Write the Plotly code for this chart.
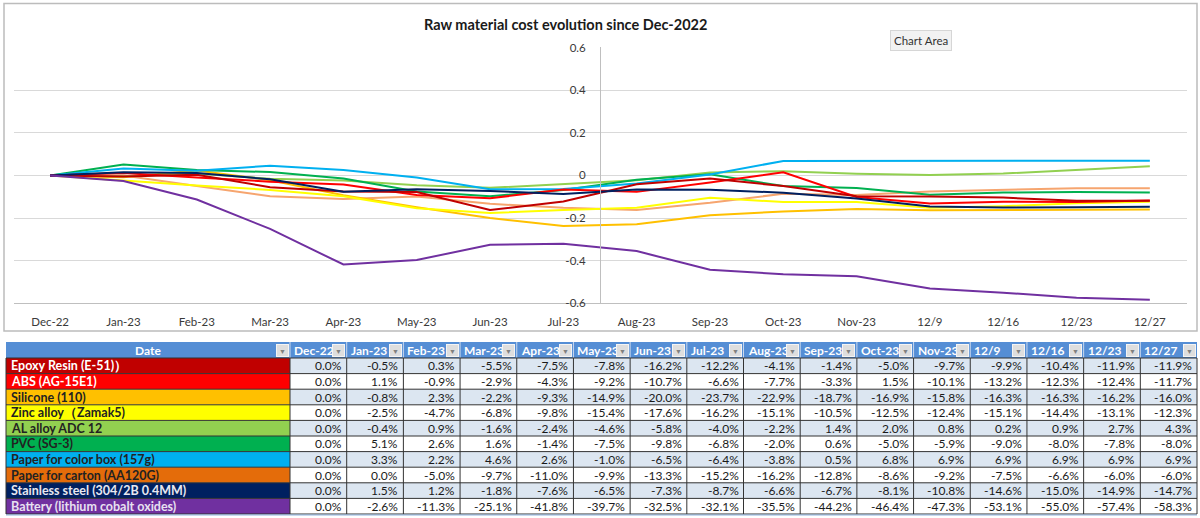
import plotly.graph_objects as go

categories = ["Dec-22", "Jan-23", "Feb-23", "Mar-23", "Apr-23", "May-23", "Jun-23", "Jul-23",
              "Aug-23", "Sep-23", "Oct-23", "Nov-23", "12/9", "12/16", "12/23", "12/27"]

materials = ["Epoxy Resin (E-51)）", "ABS (AG-15E1)", "Silicone (110)", "Zinc alloy（Zamak5)",
             "AL alloy ADC 12", "PVC (SG-3)", "Paper for color box (157g)", "Paper for carton (AA120G)",
             "Stainless steel (304/2B 0.4MM)", "Battery (lithium cobalt oxides)"]

epoxy = [0.0, -0.5, 0.3, -5.5, -7.5, -7.8, -16.2, -12.2, -4.1, -1.4, -5.0, -9.7, -9.9, -10.4, -11.9, -11.9]
abs_ = [0.0, 1.1, -0.9, -2.9, -4.3, -9.2, -10.7, -6.6, -7.7, -3.3, 1.5, -10.1, -13.2, -12.3, -12.4, -11.7]
silicone = [0.0, -0.8, 2.3, -2.2, -9.3, -14.9, -20.0, -23.7, -22.9, -18.7, -16.9, -15.8, -16.3, -16.3, -16.2, -16.0]
zinc = [0.0, -2.5, -4.7, -6.8, -9.8, -15.4, -17.6, -16.2, -15.1, -10.5, -12.5, -12.4, -15.1, -14.4, -13.1, -12.3]
al_alloy = [0.0, -0.4, 0.9, -1.6, -2.4, -4.6, -5.8, -4.0, -2.2, 1.4, 2.0, 0.8, 0.2, 0.9, 2.7, 4.3]
pvc = [0.0, 5.1, 2.6, 1.6, -1.4, -7.5, -9.8, -6.8, -2.0, 0.6, -5.0, -5.9, -9.0, -8.0, -7.8, -8.0]
paper_box = [0.0, 3.3, 2.2, 4.6, 2.6, -1.0, -6.5, -6.4, -3.8, 0.5, 6.8, 6.9, 6.9, 6.9, 6.9, 6.9]
paper_carton = [0.0, 0.0, -5.0, -9.7, -11.0, -9.9, -13.3, -15.2, -16.2, -12.8, -8.6, -9.2, -7.5, -6.6, -6.0, -6.0]
stainless = [0.0, 1.5, 1.2, -1.8, -7.6, -6.5, -7.3, -8.7, -6.6, -6.7, -8.1, -10.8, -14.6, -15.0, -14.9, -14.7]
battery = [0.0, -2.6, -11.3, -25.1, -41.8, -39.7, -32.5, -32.1, -35.5, -44.2, -46.4, -47.3, -53.1, -55.0, -57.4, -58.3]

series = [epoxy, abs_, silicone, zinc, al_alloy, pvc, paper_box, paper_carton, stainless, battery]

line_colors = ["#c00000", "#ff0000", "#ffc000", "#ffff00", "#92d050", "#00b050",
               "#00b0f0", "#f6a56f", "#002060", "#7030a0"]
label_fills = ["#c00000", "#ff0000", "#ffc000", "#ffff00", "#92d050", "#00b050",
               "#00b0f0", "#e46c0a", "#002060", "#7030a0"]
label_fonts = ["white", "white", "#222222", "#222222", "#222222", "#222222",
               "#222222", "#222222", "#e8e8f0", "#e8e0f0"]

y_tickvals = [-0.6, -0.4, -0.2, 0, 0.2, 0.4, 0.6]
y_ticktext = ["-0.6", "-0.4", "-0.2", "0", "0.2", "0.4", "0.6"]

W, H = 1200, 518
FONT = "Lato, 'Liberation Sans', sans-serif"

fig = go.Figure()

order = [7, 2, 3, 4, 5, 6, 1, 0, 8, 9]
for i in order:
    fig.add_trace(go.Scatter(
        x=categories, y=[v / 100 for v in series[i]], mode="lines",
        name=materials[i], line=dict(color=line_colors[i], width=2),
        showlegend=False, hoverinfo="skip"))

# plot area geometry (pixels of the 1200x518 picture)
x0p, x1p = 13.5 / W, 1186.5 / W
ytop, ybot = 47.3, 303.3
n = len(categories)
axis_cross = 8  # vertical axis crosses between Jul-23 and Aug-23
ypos = x0p + axis_cross / n * (x1p - x0p)

fig.update_layout(
    width=W, height=H, autosize=False, margin=dict(l=0, r=0, t=0, b=0, pad=0, autoexpand=False),
    paper_bgcolor="white", plot_bgcolor="white",
    font=dict(family=FONT, color="#404040", size=11),
    xaxis=dict(domain=[x0p, x1p], type="category", range=[-0.5, n - 0.5], automargin=False,
               showgrid=False, zeroline=False, showline=True, linecolor="#bfbfbf",
               linewidth=1, ticks="", tickfont=dict(size=11.5, color="#3a3a3a"),
               ticklabelstandoff=8, fixedrange=True),
    yaxis=dict(domain=[1 - ybot / H, 1 - ytop / H], range=[-0.6, 0.6015], automargin=False,
               anchor="free", position=ypos, showline=True, linecolor="#bfbfbf", linewidth=1,
               showgrid=True, gridcolor="#d9d9d9", gridwidth=1, zeroline=False,
               tickvals=y_tickvals, ticktext=y_ticktext, ticks="",
               tickfont=dict(size=11.5, color="#3a3a3a"), ticklabelstandoff=12,
               fixedrange=True),
)

def px(x):
    return x / W

def py(y):
    return 1 - y / H

# title
fig.add_annotation(text="<b>Raw material cost evolution since Dec-2022</b>", xref="paper", yref="paper",
                   x=px(422), y=py(24), showarrow=False, xanchor="left", yanchor="middle",
                   font=dict(size=14.5, color="#1a1a1a", family=FONT))

# chart area border
fig.add_shape(type="rect", xref="paper", yref="paper", x0=px(4), x1=px(1197), y0=py(331), y1=py(3.5),
              line=dict(color="#bcbcbc", width=1.5), fillcolor="rgba(0,0,0,0)", layer="below")

# tooltip
fig.add_annotation(text="Chart Area", xref="paper", yref="paper", x=px(921), y=py(41),
                   showarrow=False, xanchor="center", yanchor="middle",
                   font=dict(size=11.5, color="#333333", family=FONT),
                   bgcolor="#f2f2f2", bordercolor="#d6d6d6", borderwidth=1, borderpad=3)

# ---------------- table drawn with shapes and annotations ----------------
tbl_left, tbl_right = 6, 1197
first_w = 284
col_w = (tbl_right - tbl_left - first_w) / n
tbl_top = 342
header_h = 16
row_h = 15.6
nrows = len(materials)
tbl_bottom = tbl_top + header_h + row_h * nrows

col_edges = [tbl_left, tbl_left + first_w] + [tbl_left + first_w + col_w * (k + 1) for k in range(n)]
shapes = []

shapes.append(dict(type="rect", xref="paper", yref="paper", x0=px(tbl_left), x1=px(tbl_right),
                   y0=py(tbl_top + header_h), y1=py(tbl_top), line=dict(width=0), fillcolor="#558ed5"))
for r in range(nrows):
    yt = tbl_top + header_h + r * row_h
    shapes.append(dict(type="rect", xref="paper", yref="paper", x0=px(tbl_left), x1=px(col_edges[1]),
                       y0=py(yt + row_h), y1=py(yt), line=dict(width=0), fillcolor=label_fills[r]))
    shapes.append(dict(type="rect", xref="paper", yref="paper", x0=px(col_edges[1]), x1=px(tbl_right),
                       y0=py(yt + row_h), y1=py(yt), line=dict(width=0),
                       fillcolor="#dce6f1" if r % 2 == 0 else "#ffffff"))
for e in col_edges[1:-1]:
    shapes.append(dict(type="line", xref="paper", yref="paper", x0=px(e), x1=px(e),
                       y0=py(tbl_top + header_h), y1=py(tbl_top), line=dict(color="#c9d8ee", width=1)))
for e in col_edges:
    shapes.append(dict(type="line", xref="paper", yref="paper", x0=px(e), x1=px(e),
                       y0=py(tbl_bottom), y1=py(tbl_top + header_h), line=dict(color="#333333", width=1)))
for r in range(nrows + 1):
    yy = tbl_top + header_h + r * row_h
    shapes.append(dict(type="line", xref="paper", yref="paper", x0=px(tbl_left), x1=px(tbl_right),
                       y0=py(yy), y1=py(yy), line=dict(color="#333333", width=1)))
shapes.append(dict(type="line", xref="paper", yref="paper", x0=px(tbl_left), x1=px(tbl_right),
                   y0=py(tbl_bottom + 1), y1=py(tbl_bottom + 1), line=dict(color="#8db4e2", width=1)))
for s in shapes:
    fig.add_shape(**s)

anns = []
anns.append(dict(text="<b>Date</b>", x=px((col_edges[0] + col_edges[1]) / 2), y=py(tbl_top + header_h / 2),
                 xanchor="center", font=dict(size=12, color="white", family=FONT)))
for k, c in enumerate(categories):
    anns.append(dict(text="<b>%s</b>" % c, x=px(col_edges[k + 1] + 2), y=py(tbl_top + header_h / 2),
                     xanchor="left", font=dict(size=12, color="white", family=FONT)))
for r in range(nrows):
    yc = py(tbl_top + header_h + r * row_h + row_h / 2)
    anns.append(dict(text="<b>%s</b>" % materials[r], x=px(tbl_left + 3), y=yc, xanchor="left",
                     font=dict(size=12.5, color=label_fonts[r], family=FONT)))
    for k in range(n):
        anns.append(dict(text="%.1f%%" % series[r][k], x=px(col_edges[k + 2] - 3), y=yc, xanchor="right",
                         font=dict(size=12, color="#1a1a1a", family=FONT)))
for a in anns:
    fig.add_annotation(xref="paper", yref="paper", showarrow=False, yanchor="middle", **a)

for e in col_edges[1:]:
    fig.add_annotation(text="▼", xref="paper", yref="paper", x=px(e - 8), y=py(tbl_top + header_h / 2),
                       showarrow=False, xanchor="center", yanchor="middle", width=11, height=11,
                       font=dict(size=7, color="#808080"), bgcolor="#dedede",
                       bordercolor="#f4f4f4", borderwidth=1, borderpad=0)

fig.write_html("out.html", config=dict(displayModeBar=False),
               post_script="document.body.style.margin='0';document.body.style.overflow='hidden';")
